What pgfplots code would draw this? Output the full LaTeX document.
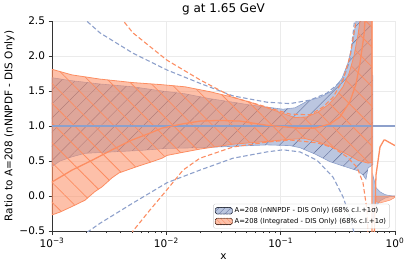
\documentclass[border=0pt]{standalone}
\usepackage{fontspec}
\setmainfont{DejaVu Sans}
\usepackage{pgfplots}
\pgfplotsset{compat=1.18}
\usetikzlibrary{patterns.meta}
\definecolor{bluec}{HTML}{8DA0CB}
\definecolor{orangec}{HTML}{FC8D62}
\definecolor{bluehatch}{HTML}{5F6C98}
\definecolor{gridc}{HTML}{EBEBEB}
\definecolor{spine}{HTML}{333333}
\begin{document}
\begin{tikzpicture}
\begin{axis}[
  scale only axis, width=343pt, height=210pt,
  xmode=log, xmin=1e-3, xmax=1, ymin=-0.5, ymax=2.5,
  axis x line*=bottom, axis y line*=left,
  x axis line style={-, spine, line width=0.9pt},
  y axis line style={-, spine, line width=0.9pt},
  xtick={0.001,0.01,0.1,1},
  xticklabels={10\textsuperscript{−3},10\textsuperscript{−2},10\textsuperscript{−1},10\textsuperscript{0}},
  ytick={-0.5,0,0.5,1,1.5,2,2.5},
  yticklabels={−0.5,0.0,0.5,1.0,1.5,2.0,2.5},
  tick align=outside, tick pos=left,
  major tick length=3.5pt, minor tick length=2pt,
  every tick/.style={spine, line width=0.7pt},
  grid=major, major grid style={gridc, line width=0.6pt},
  tick label style={font=\fontsize{10.5}{12}\selectfont},
  label style={font=\fontsize{10.5}{12}\selectfont},
  title style={font=\fontsize{12}{14}\selectfont, yshift=-3.5pt},
  title={g at 1.65 GeV},
  xlabel={x}, ylabel={Ratio to A=208 (nNNPDF - DIS Only)},
  xlabel style={yshift=1pt},
  ylabel style={yshift=-2pt},
  legend style={at={(0.985,0.012)}, anchor=south east, font=\fontsize{6.8}{8}\selectfont,
    draw=gray!40, rounded corners=1.5pt, fill=white, fill opacity=0.85, text opacity=1,
    inner sep=1.5pt, row sep=0pt},
  legend cell align=left,
]
% ---------- blue band (nNNPDF) ----------
\addplot[forget plot, fill=bluec, fill opacity=0.6, draw=bluec, line width=0.6pt] coordinates {
(0.001,1.69)(0.001437,1.65)(0.00263,1.60)(0.005108,1.56)(0.00917,1.50)(0.01457,1.46)(0.0241,1.39)(0.03828,1.34)(0.05395,1.30)(0.07586,1.27)(0.1047,1.24)(0.1334,1.26)(0.1734,1.36)(0.2208,1.41)(0.2812,1.50)(0.3436,1.68)(0.3881,1.90)(0.4285,2.20)(0.4656,2.60)(0.6166,2.60)(0.6295,1.72)(0.6412,1.72)
(0.6412,0.45)(0.5808,0.40)(0.5572,0.24)(0.5248,0.30)(0.4742,0.36)(0.3656,0.42)(0.2703,0.49)(0.1996,0.60)(0.1476,0.69)(0.1208,0.72)(0.07586,0.73)(0.03828,0.71)(0.01968,0.69)(0.01014,0.68)(0.005768,0.65)(0.00335,0.63)(0.001944,0.61)(0.001496,0.56)(0.001175,0.50)(0.001,0.42)
} -- cycle;
\addplot[forget plot, draw=none, pattern={Lines[angle=45,distance=10pt,line width=0.45pt]}, pattern color=bluehatch] coordinates {
(0.001,1.69)(0.001437,1.65)(0.00263,1.60)(0.005108,1.56)(0.00917,1.50)(0.01457,1.46)(0.0241,1.39)(0.03828,1.34)(0.05395,1.30)(0.07586,1.27)(0.1047,1.24)(0.1334,1.26)(0.1734,1.36)(0.2208,1.41)(0.2812,1.50)(0.3436,1.68)(0.3881,1.90)(0.4285,2.20)(0.4656,2.60)(0.6166,2.60)(0.6295,1.72)(0.6412,1.72)
(0.6412,0.45)(0.5808,0.40)(0.5572,0.24)(0.5248,0.30)(0.4742,0.36)(0.3656,0.42)(0.2703,0.49)(0.1996,0.60)(0.1476,0.69)(0.1208,0.72)(0.07586,0.73)(0.03828,0.71)(0.01968,0.69)(0.01014,0.68)(0.005768,0.65)(0.00335,0.63)(0.001944,0.61)(0.001496,0.56)(0.001175,0.50)(0.001,0.42)
} -- cycle;
% small blue band at large x
\addplot[forget plot, fill=bluec, fill opacity=0.6, draw=bluec, line width=0.5pt] coordinates {
(0.6412,0.30)(0.6823,0.12)(0.7396,0.06)(0.8185,0.02)(0.9036,0.005)(1.0,0.0)
(1.0,-0.01)(0.9036,-0.01)(0.8185,-0.03)(0.7396,-0.07)(0.6823,-0.15)(0.6412,-0.35)
} -- cycle;
% ---------- orange band (Integrated) ----------
\addplot[forget plot, fill=orangec, fill opacity=0.55, draw=orangec, line width=0.8pt] coordinates {
(0.001,1.81)(0.001496,1.73)(0.00263,1.67)(0.005108,1.62)(0.00917,1.59)(0.01457,1.56)(0.0241,1.49)(0.03828,1.41)(0.05395,1.34)(0.07586,1.26)(0.1047,1.18)(0.1334,1.12)(0.1698,1.13)(0.2123,1.20)(0.2594,1.30)(0.3048,1.42)(0.3508,1.56)(0.3963,1.75)(0.4375,2.00)(0.4742,2.30)(0.5047,2.60)(0.6295,2.60)
(0.6295,0.48)(0.5808,0.47)(0.4742,0.51)(0.3881,0.59)(0.2812,0.70)(0.2080,0.78)(0.1633,0.82)(0.1208,0.81)(0.07586,0.78)(0.03828,0.74)(0.01968,0.67)(0.01457,0.63)(0.01014,0.58)(0.00917,0.54)(0.0075,0.49)(0.005768,0.43)(0.00471,0.38)(0.003855,0.33)(0.00335,0.26)(0.002735,0.13)(0.00236,0.06)(0.001944,-0.06)(0.001589,-0.13)(0.001175,-0.23)(0.001,-0.27)
} -- cycle;
\addplot[forget plot, draw=none, pattern={Lines[angle=-45,distance=14pt,line width=0.8pt]}, pattern color=orangec] coordinates {
(0.001,1.81)(0.001496,1.73)(0.00263,1.67)(0.005108,1.62)(0.00917,1.59)(0.01457,1.56)(0.0241,1.49)(0.03828,1.41)(0.05395,1.34)(0.07586,1.26)(0.1047,1.18)(0.1334,1.12)(0.1698,1.13)(0.2123,1.20)(0.2594,1.30)(0.3048,1.42)(0.3508,1.56)(0.3963,1.75)(0.4375,2.00)(0.4742,2.30)(0.5047,2.60)(0.6295,2.60)
(0.6295,0.48)(0.5808,0.47)(0.4742,0.51)(0.3881,0.59)(0.2812,0.70)(0.2080,0.78)(0.1633,0.82)(0.1208,0.81)(0.07586,0.78)(0.03828,0.74)(0.01968,0.67)(0.01457,0.63)(0.01014,0.58)(0.00917,0.54)(0.0075,0.49)(0.005768,0.43)(0.00471,0.38)(0.003855,0.33)(0.00335,0.26)(0.002735,0.13)(0.00236,0.06)(0.001944,-0.06)(0.001589,-0.13)(0.001175,-0.23)(0.001,-0.27)
} -- cycle;
% small orange band at large x
\addplot[forget plot, fill=orangec, fill opacity=0.55, draw=orangec, line width=0.5pt] coordinates {
(0.6823,0.0)(0.7396,0.0)(0.9036,0.0)(1.0,0.0)
(1.0,-0.02)(0.9036,-0.06)(0.7396,-0.10)(0.6823,-0.08)
} -- cycle;
% ---------- dashed 1-sigma lines ----------
\addplot[forget plot, bluec, line width=1.1pt, dash pattern=on 4.5pt off 2.5pt] coordinates {
(0.001828,2.56)(0.00263,2.33)(0.005108,2.04)(0.01014,1.80)(0.01968,1.61)(0.03828,1.43)(0.07586,1.34)(0.1208,1.32)(0.1807,1.37)(0.2541,1.47)(0.3508,1.66)(0.4038,1.94)(0.4285,2.30)(0.4467,2.56)};
\addplot[forget plot, bluec, line width=1.1pt, dash pattern=on 4.5pt off 2.5pt] coordinates {
(0.002023,-0.52)(0.00263,-0.39)(0.005108,-0.10)(0.01014,0.19)(0.01968,0.37)(0.03828,0.54)(0.07586,0.63)(0.1047,0.66)(0.1476,0.63)(0.2080,0.51)(0.2871,0.27)(0.3508,-0.01)(0.4038,-0.30)(0.4375,-0.52)};
\addplot[forget plot, orangec, line width=1.1pt, dash pattern=on 4.5pt off 2.5pt] coordinates {
(0.003936,2.56)(0.005108,2.33)(0.01014,1.94)(0.01968,1.66)(0.03828,1.41)(0.07586,1.27)(0.1208,1.17)(0.1807,1.16)(0.2344,1.27)(0.2871,1.41)(0.3508,1.66)(0.4038,1.99)(0.4467,2.41)(0.4656,2.56)};
\addplot[forget plot, orangec, line width=1.1pt, dash pattern=on 4.5pt off 2.5pt] coordinates {
(0.00491,-0.55)(0.005108,-0.50)(0.00719,-0.20)(0.01014,0.09)(0.014,0.37)(0.01968,0.54)(0.03828,0.70)(0.07586,0.77)(0.1208,0.80)(0.2080,0.76)(0.2871,0.69)(0.3802,0.56)(0.4656,0.41)(0.5248,0.19)(0.5689,-0.20)(0.5808,-0.55)};
% ---------- central values ----------
\addplot[forget plot, bluec, line width=1.4pt] coordinates {(0.001,1.0)(1.0,1.0)};
\addplot[forget plot, orangec, line width=1.3pt] coordinates {
(0.001,0.20)(0.001496,0.37)(0.002239,0.51)(0.00335,0.66)(0.005012,0.80)(0.0075,0.91)(0.00917,0.97)(0.01387,1.03)(0.01968,1.07)(0.0294,1.08)(0.04406,1.07)(0.07586,1.01)(0.1047,0.99)(0.1419,0.97)(0.1996,0.97)(0.2703,1.03)(0.3304,1.13)(0.4038,1.35)(0.4560,1.60)(0.4943,1.90)(0.5358,2.30)(0.5572,2.70)(0.6295,2.70)(0.6295,-0.70)(0.6546,-0.70)(0.6823,0.30)(0.7396,0.70)(0.8017,0.80)(0.8185,0.80)(0.9036,0.76)(1.0,0.72)};
% ---------- legend ----------
\addlegendimage{legend image code/.code={\path[draw=bluec, dash pattern=on 2pt off 1pt, line width=0.7pt, fill=bluec, fill opacity=0.6] (0pt,-3.2pt) rectangle (17pt,3.2pt); \path[pattern={Lines[angle=45,distance=4pt,line width=0.45pt]}, pattern color=bluehatch] (0pt,-3.2pt) rectangle (17pt,3.2pt);}}
\addlegendentry{A=208 (nNNPDF - DIS Only) (68\% c.l.+1σ)}
\addlegendimage{legend image code/.code={\path[draw=orangec, dash pattern=on 2pt off 1pt, line width=0.7pt, fill=orangec, fill opacity=0.55] (0pt,-3.2pt) rectangle (17pt,3.2pt); \path[pattern={Lines[angle=-45,distance=4pt,line width=0.6pt]}, pattern color=orangec] (0pt,-3.2pt) rectangle (17pt,3.2pt);}}
\addlegendentry{A=208 (Integrated - DIS Only) (68\% c.l.+1σ)}
\end{axis}
\pgfresetboundingbox
\path[use as bounding box] (-52pt,-38pt) rectangle (360pt,231pt);
\end{tikzpicture}
\end{document}
